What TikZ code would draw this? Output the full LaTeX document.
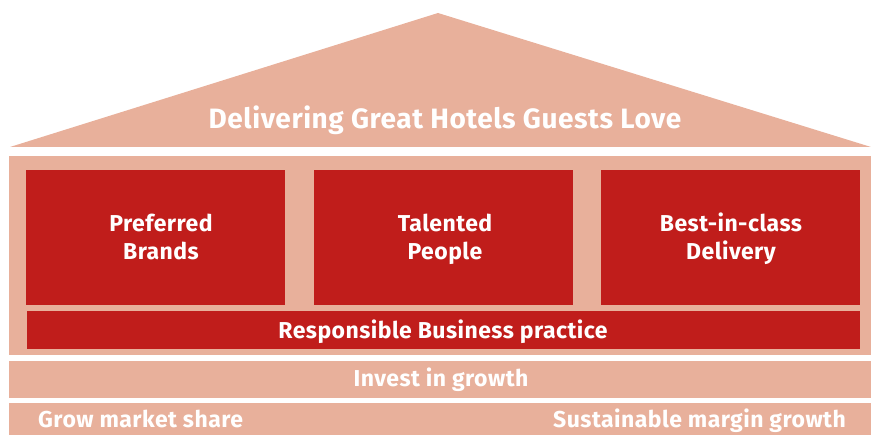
\documentclass[tikz,border=0pt]{standalone}
\usepackage{fontspec}
\setmainfont[LetterSpace=2]{Fira Sans}
\definecolor{salmon}{RGB}{232,176,155}
\definecolor{brandred}{RGB}{192,29,27}
\begin{document}
\begin{tikzpicture}[x=1pt,y=-1pt,
  band/.style={fill=salmon,draw=none},
  pillar/.style={fill=brandred,draw=none},
  lbl/.style={text=white,font=\bfseries\fontsize{23}{27.5}\selectfont,align=center,inner sep=0pt},
  title/.style={text=white,font=\bfseries\fontsize{28}{32}\selectfont,inner sep=0pt}]
\useasboundingbox (0,0) rectangle (871,435);
% roof
\fill[band] (10,147) -- (438,13) -- (871,147) -- cycle;
\node[title,anchor=base] (roof) at (445,129) {Delivering Great Hotels Guests Love};
% main body holding the pillars
\fill[band] (9,156) rectangle (871,355);
\fill[pillar] (26,170) rectangle (285,305);
\fill[pillar] (314,170) rectangle (573,305);
\fill[pillar] (601,170) rectangle (860,305);
\fill[pillar] (27,311) rectangle (860,349);
\node[lbl] (brands) at (161,240) {\strut Preferred\\\strut Brands};
\node[lbl] (people) at (445,240) {\strut Talented\\\strut People};
\node[lbl] (delivery) at (731,240) {\strut Best-in-class\\\strut Delivery};
\node[lbl,anchor=base] (resp) at (443,339) {Responsible Business practice};
% foundations
\fill[band] (9,361) rectangle (871,398);
\node[lbl,anchor=base] (invest) at (441,387) {Invest in growth};
\fill[band] (9,403) rectangle (871,435);
\node[lbl,anchor=base west] (share) at (38,428) {Grow market share};
\node[lbl,anchor=base east] (margin) at (846,428) {Sustainable margin growth};
\end{tikzpicture}
\end{document}
